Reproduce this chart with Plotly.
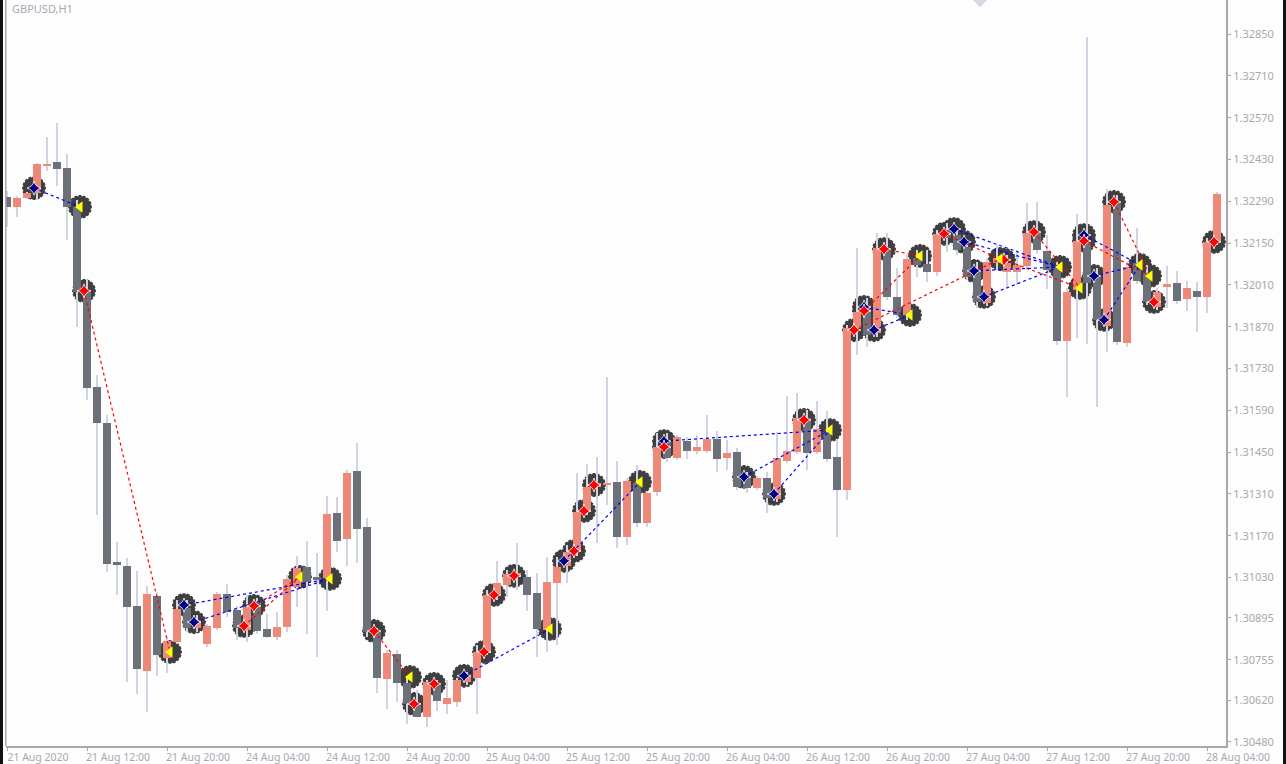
import plotly.graph_objects as go

opens = [1.32304,1.32271,1.32301,1.32317,1.32408,1.32422,1.32402,1.32271,1.31986,1.31668,1.31548,1.31082,1.31069,1.30935,1.30717,1.30968,1.30761,1.30815,1.30928,1.30861,1.30808,1.30861,1.30975,1.30922,1.30855,1.30948,1.30858,1.30831,1.30865,1.30999,1.31066,1.31032,1.31029,1.31246,1.31159,1.31387,1.31200,1.30848,1.30691,1.30775,1.30677,1.30610,1.30563,1.30671,1.30607,1.30614,1.30681,1.30694,1.30778,1.30972,1.31006,1.31032,1.31032,1.30978,1.30855,1.31012,1.31069,1.31116,1.31250,1.31334,1.31340,1.31350,1.31166,1.31347,1.31213,1.31317,1.31491,1.31431,1.31487,1.31454,1.31454,1.31494,1.31431,1.31451,1.31367,1.31330,1.31364,1.31293,1.31421,1.31451,1.31565,1.31451,1.31518,1.31434,1.31324,1.31866,1.31943,1.31849,1.32127,1.31970,1.31909,1.32100,1.32080,1.32053,1.32194,1.32177,1.32137,1.32060,1.31950,1.32084,1.32053,1.32053,1.32073,1.32184,1.32124,1.32067,1.31822,1.31993,1.32150,1.32037,1.31873,1.32288,1.31816,1.32084,1.32050,1.31936,1.32003,1.32017,1.31963,1.31990,1.31970,1.32154]
closes = [1.32271,1.32301,1.32317,1.32415,1.32415,1.32398,1.32271,1.31986,1.31665,1.31548,1.31076,1.31072,1.30932,1.30724,1.30975,1.30771,1.30818,1.30925,1.30861,1.30888,1.30868,1.30975,1.30915,1.30861,1.30932,1.30851,1.30831,1.30865,1.31026,1.31062,1.31016,1.31022,1.31243,1.31153,1.31380,1.31193,1.30848,1.30694,1.30778,1.30677,1.30607,1.30563,1.30681,1.30617,1.30627,1.30687,1.30704,1.30781,1.30972,1.31012,1.31042,1.31046,1.30972,1.30858,1.31016,1.31066,1.31116,1.31250,1.31334,1.31347,1.31347,1.31166,1.31354,1.31213,1.31313,1.31467,1.31431,1.31501,1.31454,1.31467,1.31494,1.31427,1.31447,1.31334,1.31330,1.31364,1.31297,1.31431,1.31454,1.31565,1.31447,1.31528,1.31427,1.31324,1.31866,1.31919,1.31842,1.32134,1.31970,1.31909,1.32097,1.32077,1.32053,1.32181,1.32167,1.32127,1.32037,1.31953,1.32087,1.32100,1.32084,1.32077,1.32184,1.32127,1.32060,1.31822,1.31986,1.32157,1.32017,1.31893,1.32278,1.31819,1.32070,1.32023,1.31953,1.31986,1.32013,1.31956,1.32000,1.31970,1.32154,1.32314]
highs = [1.32324,1.32307,1.32321,1.32418,1.32505,1.32552,1.32448,1.32294,1.32027,1.31708,1.31575,1.31149,1.31096,1.31052,1.31002,1.30982,1.30831,1.30955,1.30955,1.30905,1.30875,1.30982,1.31009,1.30935,1.30972,1.30962,1.30908,1.30915,1.31039,1.31102,1.31153,1.31113,1.31303,1.31300,1.31390,1.31481,1.31230,1.30861,1.30788,1.30788,1.30701,1.30654,1.30687,1.30687,1.30687,1.30694,1.30714,1.30805,1.30988,1.31086,1.31056,1.31146,1.31056,1.31046,1.31099,1.31099,1.31139,1.31380,1.31411,1.31434,1.31702,1.31421,1.31364,1.31407,1.31320,1.31514,1.31514,1.31508,1.31501,1.31508,1.31575,1.31521,1.31491,1.31464,1.31384,1.31370,1.31384,1.31518,1.31638,1.31648,1.31591,1.31621,1.31588,1.31491,1.31876,1.32134,1.31966,1.32184,1.32184,1.32067,1.32110,1.32127,1.32127,1.32194,1.32217,1.32201,1.32160,1.32087,1.32100,1.32144,1.32110,1.32127,1.32284,1.32288,1.32177,1.32087,1.32000,1.32248,1.32840,1.32067,1.32331,1.32311,1.32087,1.32201,1.32077,1.32000,1.32073,1.32057,1.32023,1.32020,1.32167,1.32321]
lows = [1.32204,1.32237,1.32297,1.32294,1.32391,1.32341,1.32160,1.31869,1.31625,1.31240,1.31049,1.30972,1.30681,1.30640,1.30580,1.30701,1.30711,1.30808,1.30848,1.30848,1.30798,1.30855,1.30898,1.30821,1.30815,1.30841,1.30828,1.30821,1.30848,1.30932,1.30841,1.30764,1.30918,1.31116,1.31069,1.31079,1.30831,1.30644,1.30590,1.30614,1.30540,1.30563,1.30530,1.30584,1.30573,1.30597,1.30671,1.30573,1.30771,1.30955,1.30965,1.30988,1.30918,1.30764,1.30781,1.30805,1.31012,1.31102,1.31240,1.31146,1.31273,1.31129,1.31139,1.31200,1.31200,1.31303,1.31417,1.31424,1.31427,1.31444,1.31447,1.31384,1.31390,1.31324,1.31313,1.31324,1.31246,1.31283,1.31414,1.31444,1.31390,1.31444,1.31417,1.31166,1.31290,1.31775,1.31802,1.31836,1.31960,1.31899,1.31893,1.32037,1.32020,1.32040,1.32120,1.32110,1.32027,1.31933,1.31940,1.32060,1.32003,1.32010,1.32060,1.32114,1.31996,1.31809,1.31635,1.31832,1.31812,1.31601,1.31785,1.31809,1.31802,1.32013,1.31943,1.31926,1.31933,1.31946,1.31923,1.31852,1.31916,1.32144]

blue_x = [2.7,17.7,18.7,45.7,55.7,65.7,73.7,76.7,85.7,86.7,94.7,95.7,96.7,97.7,107.7,108.7,109.7]
blue_price = [1.32334,1.30938,1.30881,1.30701,1.31086,1.31487,1.31367,1.31310,1.31936,1.31859,1.32197,1.32154,1.32057,1.31970,1.32177,1.32040,1.31893]
yellow_x = [7.3,16.3,29.3,32.3,40.3,54.3,63.3,82.3,90.3,91.3,99.3,105.3,107.3,113.3,114.3]
yellow_price = [1.32271,1.30781,1.31032,1.31026,1.30697,1.30858,1.31350,1.31524,1.31909,1.32107,1.32097,1.32070,1.32000,1.32077,1.32040]
red_x = [7.7,23.7,24.7,36.7,40.7,42.7,47.7,48.7,50.7,56.7,57.7,58.7,65.7,79.7,84.7,85.7,87.7,93.7,99.7,102.7,107.7,110.7,114.7,120.7]
red_price = [1.31990,1.30868,1.30935,1.30851,1.30607,1.30674,1.30781,1.30972,1.31036,1.31119,1.31253,1.31340,1.31467,1.31558,1.31859,1.31923,1.32130,1.32181,1.32094,1.32187,1.32157,1.32288,1.31953,1.32154]
pale_x = [97.3]
pale_price = [1.32964]

red_links = [(7.7,16.3),(23.7,29.3),(24.7,29.3),(36.7,40.3),(84.7,99.3),(85.7,91.3),(87.7,91.3),(93.7,99.3),(99.7,107.3),(102.7,107.3),(107.7,114.3),(110.7,114.3)]
blue_links = [(2.7,7.3),(17.7,32.3),(18.7,32.3),(45.7,54.3),(55.7,63.3),(65.7,82.3),(73.7,82.3),(76.7,82.3),(85.7,90.3),(86.7,90.3),(94.7,105.3),(95.7,105.3),(96.7,105.3),(97.7,105.3),(107.7,113.3),(108.7,113.3),(109.7,113.3)]

x_tick_idx = [0,8,16,24,32,40,48,56,64,72,80,88,96,104,112,120]
x_tick_text = ["21 Aug 2020","21 Aug 12:00","21 Aug 20:00","24 Aug 04:00","24 Aug 12:00","24 Aug 20:00","25 Aug 04:00","25 Aug 12:00","25 Aug 20:00","26 Aug 04:00","26 Aug 12:00","26 Aug 20:00","27 Aug 04:00","27 Aug 12:00","27 Aug 20:00","28 Aug 04:00"]
y_ticks = [1.32850,1.32710,1.32570,1.32430,1.32290,1.32150,1.32010,1.31870,1.31730,1.31590,1.31450,1.31310,1.31170,1.31030,1.30895,1.30755,1.30620,1.30480]

BG = "#fdfdfe"
GRAY = "#6c7179"
SALMON = "#ee8878"
WICK = "#d2d3e2"
RING = "#3f3f3f"
AXIS = "#a8a8a8"
LABEL = "#a6a9b1"
X_RANGE = [-0.1, 121.9]
Y_RANGE = [1.30466, 1.32964]
PLOT_BOTTOM = 746

idx = list(range(len(opens)))
up = [i for i in idx if closes[i] >= opens[i]]
down = [i for i in idx if closes[i] < opens[i]]
ring_x = blue_x + yellow_x + red_x
ring_p = blue_price + yellow_price + red_price

fig = go.Figure()
# rings with a toothed rim sit under the candles (primary axes)
fig.add_trace(go.Scatter(x=ring_x, y=ring_p, mode="markers",
                         marker=dict(symbol="circle", size=22, color=RING, line=dict(width=0)), hoverinfo="skip"))
for tooth_angle in (0, 22.5, 45, 67.5):
    fig.add_trace(go.Scatter(x=ring_x, y=ring_p, mode="markers", hoverinfo="skip",
                             marker=dict(symbol="cross-thin-open", size=17, angle=tooth_angle, color=RING,
                                         line=dict(color=RING, width=2.8))))
# candles on overlaid axes so that they paint over the rings
fig.add_trace(go.Bar(x=idx, y=[highs[i] - lows[i] for i in idx], base=lows, width=0.1,
                     marker=dict(color=WICK, line=dict(width=0)), xaxis="x2", yaxis="y2"))
fig.add_trace(go.Bar(x=down, y=[opens[i] - closes[i] for i in down], base=[closes[i] for i in down], width=0.85,
                     marker=dict(color=GRAY, line=dict(width=0)), xaxis="x2", yaxis="y2"))
fig.add_trace(go.Bar(x=up, y=[closes[i] - opens[i] for i in up], base=[opens[i] for i in up], width=0.85,
                     marker=dict(color=SALMON, line=dict(width=0)), xaxis="x2", yaxis="y2"))

def link_trace(links, xs, ps, color):
    lx, ly = [], []
    for a, b in links:
        lx += [a, b, None]
        ly += [ps[xs.index(a)], yellow_price[yellow_x.index(b)], None]
    return go.Scatter(x=lx, y=ly, mode="lines", line=dict(color=color, width=1.2, dash="3px,3px"),
                      hoverinfo="skip", xaxis="x2", yaxis="y2")

fig.add_trace(link_trace(red_links, red_x, red_price, "#ff0000"))
fig.add_trace(link_trace(blue_links, blue_x, blue_price, "#0000ff"))
fig.add_trace(go.Scatter(x=pale_x, y=pale_price, mode="markers", xaxis="x2", yaxis="y2",
                         marker=dict(symbol="diamond", size=11, color="#d6d9e4", line=dict(width=0))))
fig.add_trace(go.Scatter(x=blue_x, y=blue_price, mode="markers", xaxis="x2", yaxis="y2",
                         marker=dict(symbol="star-diamond", size=10, color="#00008b", line=dict(color="white", width=0.8))))
fig.add_trace(go.Scatter(x=red_x, y=red_price, mode="markers", xaxis="x2", yaxis="y2",
                         marker=dict(symbol="star-diamond", size=10, color="#ff0000", line=dict(color="white", width=0.8))))
fig.add_trace(go.Scatter(x=yellow_x, y=yellow_price, mode="markers", xaxis="x2", yaxis="y2",
                         marker=dict(symbol="triangle-left", size=10, color="#ffff00", line=dict(width=0))))

font = dict(family="Noto Sans, Open Sans, sans-serif", size=11, color=LABEL)
x_font = dict(family="Noto Sans, Open Sans, sans-serif", size=10.5, color=LABEL)
def paper_x(px):
    return (px - 6) / 1220
def paper_y(py):
    return 1 - py / PLOT_BOTTOM
shapes = [
    dict(type="rect", xref="paper", yref="paper", x0=paper_x(0), x1=paper_x(3), y0=paper_y(764), y1=paper_y(0), fillcolor="#101010", line=dict(width=0)),
    dict(type="rect", xref="paper", yref="paper", x0=paper_x(1283), x1=paper_x(1286), y0=paper_y(764), y1=paper_y(0), fillcolor="#101010", line=dict(width=0)),
    dict(type="rect", xref="paper", yref="paper", x0=paper_x(5), x1=paper_x(6.5), y0=paper_y(PLOT_BOTTOM), y1=paper_y(0), fillcolor=AXIS, line=dict(width=0)),
]
fig.update_layout(
    width=1286, height=764, margin=dict(l=6, r=60, t=0, b=764 - PLOT_BOTTOM, pad=0, autoexpand=False),
    paper_bgcolor=BG, plot_bgcolor=BG, showlegend=False, barmode="overlay", bargap=0,
    font=font, shapes=shapes,
    xaxis=dict(range=X_RANGE, tickmode="array", tickvals=x_tick_idx, ticktext=x_tick_text, showgrid=False, zeroline=False,
               showline=True, linecolor=AXIS, linewidth=2, ticks="outside", ticklen=3, tickcolor=AXIS,
               tickfont=x_font, ticklabelshift=31, ticklabelstandoff=-3, automargin=False),
    yaxis=dict(range=Y_RANGE, side="right", tickmode="array", tickvals=y_ticks, ticktext=[f"{v:.5f}" for v in y_ticks],
               showgrid=False, zeroline=False, showline=True, linecolor=AXIS, linewidth=2, ticks="outside", ticklen=3,
               tickcolor=AXIS, tickfont=font, automargin=False),
    xaxis2=dict(range=X_RANGE, overlaying="x", visible=False),
    yaxis2=dict(range=Y_RANGE, overlaying="y", visible=False),
    annotations=[dict(text="GBPUSD,H1", xref="paper", yref="paper", x=paper_x(10), y=paper_y(8), xanchor="left", yanchor="middle",
                      showarrow=False, font=font)],
)
fig.write_html("out.html", config=dict(displayModeBar=False), post_script="document.body.style.margin='0';")
